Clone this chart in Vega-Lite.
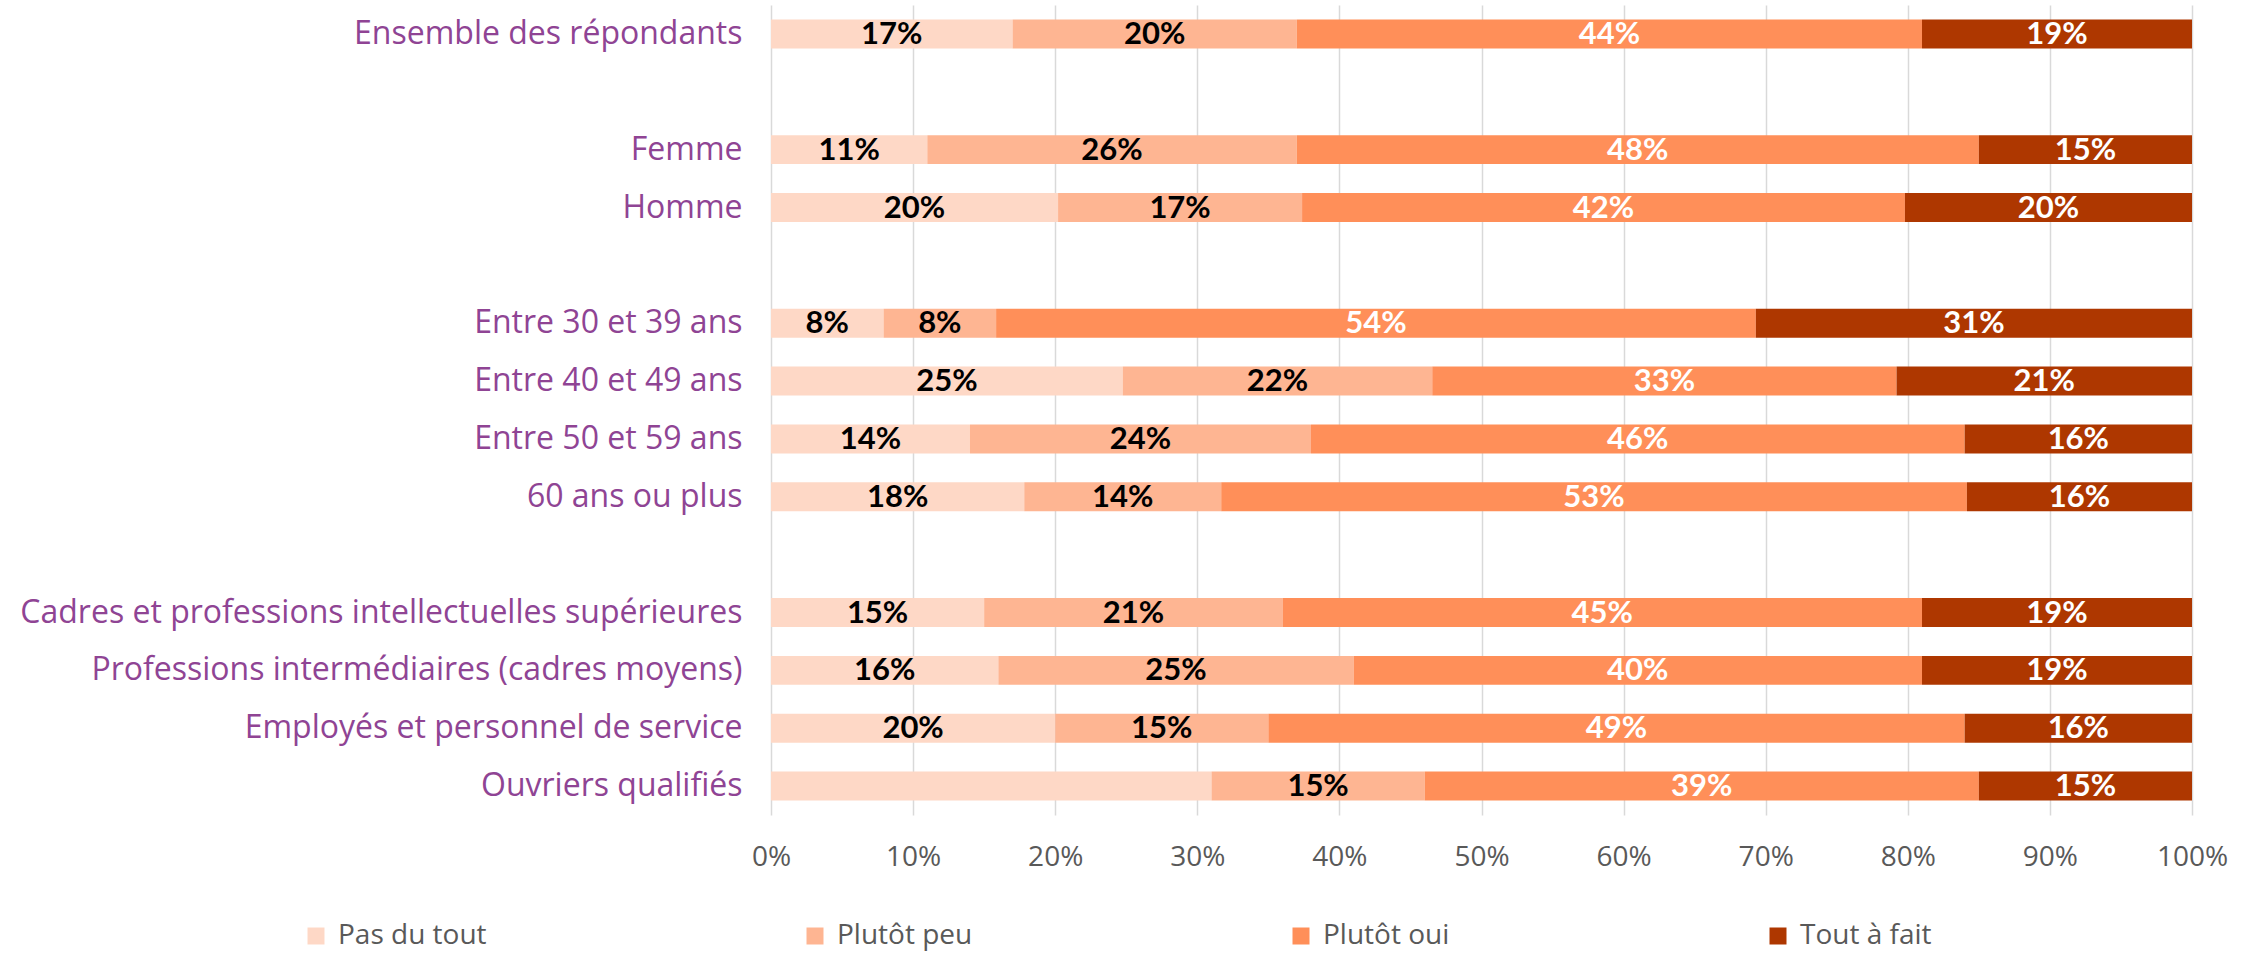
{
  "$schema": "https://vega.github.io/schema/vega-lite/v6.json",
  "autosize": "none",
  "width": 1421,
  "height": 810,
  "padding": {"left": 771, "top": 5, "right": 68, "bottom": 141},
  "background": "white",
  "config": {
    "view": {"stroke": null},
    "font": "Open Sans"
  },
  "data": {
    "values": [
      {"group": "Ensemble des répondants", "answer": "Pas du tout", "pct": 17, "label": "17%"},
      {"group": "Ensemble des répondants", "answer": "Plutôt peu", "pct": 20, "label": "20%"},
      {"group": "Ensemble des répondants", "answer": "Plutôt oui", "pct": 44, "label": "44%"},
      {"group": "Ensemble des répondants", "answer": "Tout à fait", "pct": 19, "label": "19%"},
      {"group": "Femme", "answer": "Pas du tout", "pct": 11, "label": "11%"},
      {"group": "Femme", "answer": "Plutôt peu", "pct": 26, "label": "26%"},
      {"group": "Femme", "answer": "Plutôt oui", "pct": 48, "label": "48%"},
      {"group": "Femme", "answer": "Tout à fait", "pct": 15, "label": "15%"},
      {"group": "Homme", "answer": "Pas du tout", "pct": 20, "label": "20%"},
      {"group": "Homme", "answer": "Plutôt peu", "pct": 17, "label": "17%"},
      {"group": "Homme", "answer": "Plutôt oui", "pct": 42, "label": "42%"},
      {"group": "Homme", "answer": "Tout à fait", "pct": 20, "label": "20%"},
      {"group": "Entre 30 et 39 ans", "answer": "Pas du tout", "pct": 8, "label": "8%"},
      {"group": "Entre 30 et 39 ans", "answer": "Plutôt peu", "pct": 8, "label": "8%"},
      {"group": "Entre 30 et 39 ans", "answer": "Plutôt oui", "pct": 54, "label": "54%"},
      {"group": "Entre 30 et 39 ans", "answer": "Tout à fait", "pct": 31, "label": "31%"},
      {"group": "Entre 40 et 49 ans", "answer": "Pas du tout", "pct": 25, "label": "25%"},
      {"group": "Entre 40 et 49 ans", "answer": "Plutôt peu", "pct": 22, "label": "22%"},
      {"group": "Entre 40 et 49 ans", "answer": "Plutôt oui", "pct": 33, "label": "33%"},
      {"group": "Entre 40 et 49 ans", "answer": "Tout à fait", "pct": 21, "label": "21%"},
      {"group": "Entre 50 et 59 ans", "answer": "Pas du tout", "pct": 14, "label": "14%"},
      {"group": "Entre 50 et 59 ans", "answer": "Plutôt peu", "pct": 24, "label": "24%"},
      {"group": "Entre 50 et 59 ans", "answer": "Plutôt oui", "pct": 46, "label": "46%"},
      {"group": "Entre 50 et 59 ans", "answer": "Tout à fait", "pct": 16, "label": "16%"},
      {"group": "60 ans ou plus", "answer": "Pas du tout", "pct": 18, "label": "18%"},
      {"group": "60 ans ou plus", "answer": "Plutôt peu", "pct": 14, "label": "14%"},
      {"group": "60 ans ou plus", "answer": "Plutôt oui", "pct": 53, "label": "53%"},
      {"group": "60 ans ou plus", "answer": "Tout à fait", "pct": 16, "label": "16%"},
      {"group": "Cadres et professions intellectuelles supérieures", "answer": "Pas du tout", "pct": 15, "label": "15%"},
      {"group": "Cadres et professions intellectuelles supérieures", "answer": "Plutôt peu", "pct": 21, "label": "21%"},
      {"group": "Cadres et professions intellectuelles supérieures", "answer": "Plutôt oui", "pct": 45, "label": "45%"},
      {"group": "Cadres et professions intellectuelles supérieures", "answer": "Tout à fait", "pct": 19, "label": "19%"},
      {"group": "Professions intermédiaires (cadres moyens)", "answer": "Pas du tout", "pct": 16, "label": "16%"},
      {"group": "Professions intermédiaires (cadres moyens)", "answer": "Plutôt peu", "pct": 25, "label": "25%"},
      {"group": "Professions intermédiaires (cadres moyens)", "answer": "Plutôt oui", "pct": 40, "label": "40%"},
      {"group": "Professions intermédiaires (cadres moyens)", "answer": "Tout à fait", "pct": 19, "label": "19%"},
      {"group": "Employés et personnel de service", "answer": "Pas du tout", "pct": 20, "label": "20%"},
      {"group": "Employés et personnel de service", "answer": "Plutôt peu", "pct": 15, "label": "15%"},
      {"group": "Employés et personnel de service", "answer": "Plutôt oui", "pct": 49, "label": "49%"},
      {"group": "Employés et personnel de service", "answer": "Tout à fait", "pct": 16, "label": "16%"},
      {"group": "Ouvriers qualifiés", "answer": "Pas du tout", "pct": 31, "label": ""},
      {"group": "Ouvriers qualifiés", "answer": "Plutôt peu", "pct": 15, "label": "15%"},
      {"group": "Ouvriers qualifiés", "answer": "Plutôt oui", "pct": 39, "label": "39%"},
      {"group": "Ouvriers qualifiés", "answer": "Tout à fait", "pct": 15, "label": "15%"}
    ]
  },
  "transform": [
    {"calculate": "indexof(['Pas du tout', 'Plutôt peu', 'Plutôt oui', 'Tout à fait'], datum.answer)", "as": "rank"}
  ],
  "encoding": {
    "y": {
      "field": "group",
      "type": "nominal",
      "sort": null,
      "scale": {
        "domain": [
          "Ensemble des répondants", " ",
          "Femme", "Homme", "  ",
          "Entre 30 et 39 ans", "Entre 40 et 49 ans", "Entre 50 et 59 ans", "60 ans ou plus", "   ",
          "Cadres et professions intellectuelles supérieures",
          "Professions intermédiaires (cadres moyens)",
          "Employés et personnel de service",
          "Ouvriers qualifiés"
        ],
        "paddingInner": 0.5,
        "paddingOuter": 0.25
      },
      "axis": {
        "title": null,
        "domain": false,
        "ticks": false,
        "tickSize": 0,
        "labelPadding": 29,
        "labelFont": "Open Sans",
        "labelFontSize": 32,
        "labelColor": "#8F4494",
        "labelLimit": 1000
      }
    },
    "order": {"field": "rank", "type": "quantitative", "sort": "ascending"}
  },
  "layer": [
    {
      "mark": {"type": "bar"},
      "encoding": {
        "x": {
          "field": "pct",
          "type": "quantitative",
          "stack": "normalize",
          "scale": {"domain": [0, 1], "nice": false},
          "axis": {
            "title": null,
            "format": ".0%",
            "values": [0, 0.1, 0.2, 0.3, 0.4, 0.5, 0.6, 0.7, 0.8, 0.9, 1],
            "domain": false,
            "ticks": false,
            "tickSize": 0,
            "labelPadding": 28,
            "labelFlush": false,
            "labelFont": "Open Sans",
            "labelFontSize": 28,
            "labelColor": "#595959",
            "grid": true,
            "gridColor": "#D9D9D9",
            "gridWidth": 1.5
          }
        },
        "color": {
          "field": "answer",
          "type": "nominal",
          "scale": {
            "domain": ["Pas du tout", "Plutôt peu", "Plutôt oui", "Tout à fait"],
            "range": ["#FED8C6", "#FEB592", "#FF8F59", "#AE3700"]
          },
          "legend": {
            "title": null,
            "orient": "none",
            "direction": "horizontal",
            "legendX": -469,
            "legendY": 917,
            "padding": 0,
            "symbolType": "square",
            "symbolSize": 289,
            "symbolStrokeWidth": 0,
            "symbolOpacity": 1,
            "labelOffset": 8,
            "labelFont": "Open Sans",
            "labelFontSize": 28,
            "labelColor": "#595959",
            "columnPadding": 314,
            "labelLimit": 400
          }
        }
      }
    },
    {
      "mark": {"type": "text", "font": "Lato", "fontWeight": "bold", "fontSize": 31, "baseline": "middle", "align": "center", "dy": 1},
      "encoding": {
        "x": {"field": "pct", "type": "quantitative", "stack": "normalize", "bandPosition": 0.5},
        "detail": {"field": "answer"},
        "text": {"field": "label"},
        "color": {
          "condition": {"test": "datum.answer === 'Plutôt oui' || datum.answer === 'Tout à fait'", "value": "white"},
          "value": "black"
        }
      }
    }
  ]
}
